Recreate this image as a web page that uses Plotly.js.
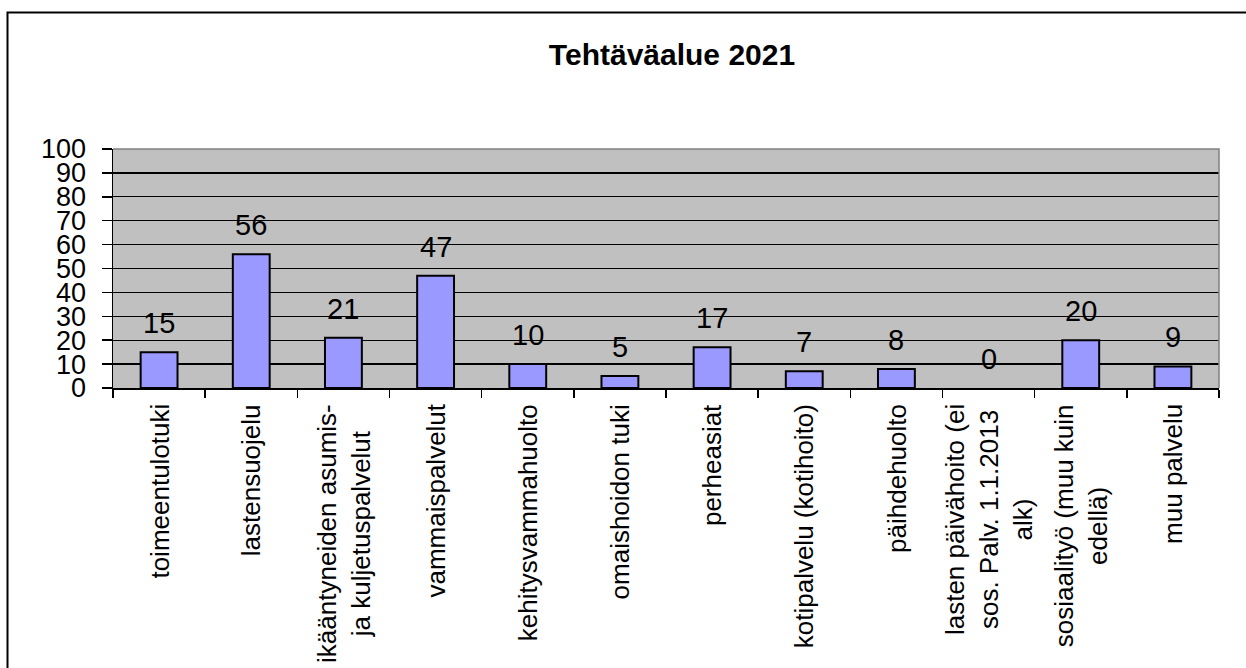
<!DOCTYPE html>
<html>
<head>
<meta charset="utf-8">
<script src="https://cdn.plot.ly/plotly-3.0.1.min.js"></script>
<style>
  html, body { margin: 0; padding: 0; background: #ffffff; }
  #chart { width: 1246px; height: 668px; }
</style>
</head>
<body>
<div id="chart"></div>
<script>
// ---- data ----
const categories = [
  "toimeentulotuki",
  "lastensuojelu",
  "ikääntyneiden asumis-<br>ja kuljetuspalvelut",
  "vammaispalvelut",
  "kehitysvammahuolto",
  "omaishoidon tuki",
  "perheasiat",
  "kotipalvelu (kotihoito)",
  "päihdehuolto",
  "lasten päivähoito (ei<br>sos. Palv. 1.1.2013<br>alk)",
  "sosiaalityö (muu kuin<br>edellä)",
  "muu palvelu"
];
const values = [15, 56, 21, 47, 10, 5, 17, 7, 8, 0, 20, 9];
const chartTitle = "Tehtäväalue 2021";
const yTicks = [0, 10, 20, 30, 40, 50, 60, 70, 80, 90, 100];

// ---- layout geometry (pixels) ----
const W = 1246, H = 668;
const m = { l: 113, r: 27, t: 149, b: 280 };
const pw = W - m.l - m.r, ph = H - m.t - m.b;
const px = x => (x - m.l) / pw;
const py = y => (H - m.b - y) / ph;

const FONT = '"Liberation Sans", Arial, sans-serif';

const trace = {
  type: 'bar',
  x: categories,
  y: values,
  marker: {
    color: '#9999ff',
    line: { color: '#000000', width: values.map(v => (v === 0 ? 0 : 2)) }
  },
  hoverinfo: 'x+y'
};

// value labels above bars
const valueLabels = categories.map((c, i) => ({
  x: c, y: values[i], xref: 'x', yref: 'y',
  text: String(values[i]), showarrow: false,
  yanchor: 'bottom', xanchor: 'center', yshift: 11,
  font: { family: FONT, size: 29, color: '#000000' }
}));

// category labels (rotated, centred lines)
const catLabels = categories.map(c => ({
  x: c, xref: 'x', yref: 'paper', y: py(402),
  text: c, showarrow: false, textangle: -90, align: 'center',
  xanchor: 'center', yanchor: 'top',
  font: { family: FONT, size: 26, color: '#000000' }
}));

const layout = {
  width: W, height: H,
  margin: m,
  paper_bgcolor: '#ffffff',
  plot_bgcolor: '#c0c0c0',
  showlegend: false,
  bargap: 0.6,
  title: {
    text: '<b>' + chartTitle + '</b>',
    font: { family: FONT, size: 30, color: '#000000' },
    xref: 'paper', x: px(672), xanchor: 'center',
    yref: 'container', y: 1 - 54 / H, yanchor: 'middle'
  },
  xaxis: {
    type: 'category',
    tickson: 'boundaries',
    ticks: 'outside', ticklen: 8, tickwidth: 1.5, tickcolor: '#000000',
    showline: true, linecolor: '#000000', linewidth: 1.5,
    showgrid: false,
    showticklabels: false,
    automargin: false
  },
  yaxis: {
    range: [0, 100],
    tickvals: yTicks,
    ticktext: yTicks.map(String),
    ticks: 'outside', ticklen: 10, tickwidth: 1.5, tickcolor: '#000000',
    ticklabelstandoff: 10,
    showline: true, linecolor: '#000000', linewidth: 1.5,
    showgrid: true, gridcolor: '#000000', gridwidth: 1.3,
    zeroline: false,
    tickfont: { family: FONT, size: 27, color: '#000000' },
    automargin: false
  },
  annotations: valueLabels.concat(catLabels),
  shapes: [
    { type: 'path', xref: 'paper', yref: 'paper', layer: 'above',
      path: `M 0 ${py(m.t)} L ${px(W - m.r)} ${py(m.t)} L ${px(W - m.r)} 0`,
      line: { color: '#808080', width: 1.5 } },
    { type: 'path', xref: 'paper', yref: 'paper', layer: 'above',
      path: `M ${px(7.5)} ${py(H + 20)} L ${px(7.5)} ${py(12.5)} L ${px(W + 20)} ${py(12.5)}`,
      line: { color: '#000000', width: 2 } }
  ]
};

Plotly.newPlot('chart', [trace], layout, { displayModeBar: false, staticPlot: true });
</script>
</body>
</html>
